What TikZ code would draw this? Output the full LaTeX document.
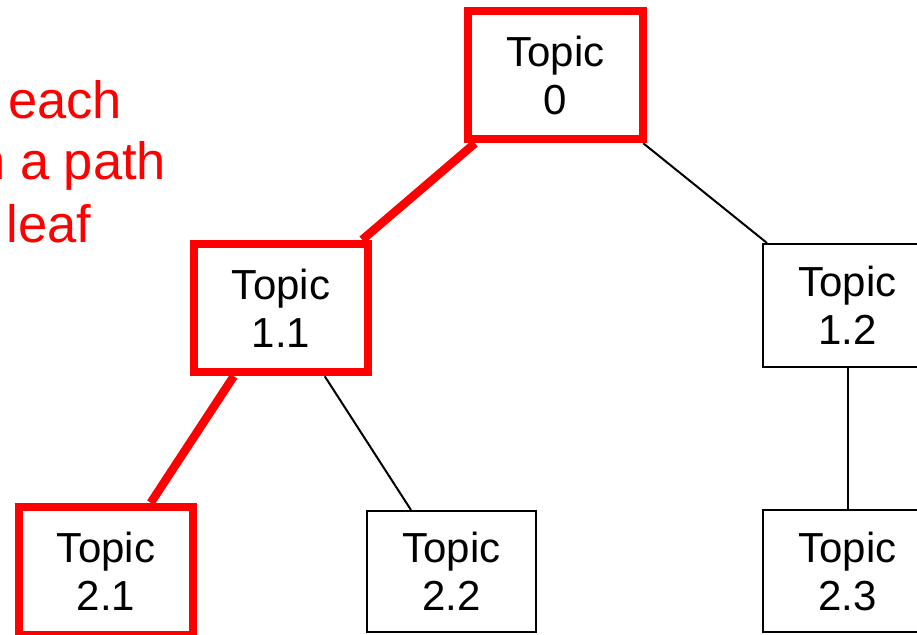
\documentclass[tikz,border=0pt]{standalone}
\usepackage{fontspec}
\setmainfont{Liberation Sans}
\usetikzlibrary{calc}
\definecolor{pathred}{RGB}{255,0,0}
\begin{document}
\begin{tikzpicture}[x=1pt,y=-1pt,
  topicbox/.style={draw=black, line width=2pt, align=center, inner sep=0pt,
    font=\fontsize{42}{48}\selectfont, text=black},
  chosenbox/.style={topicbox, draw=pathred, line width=8.5pt},
  treeedge/.style={draw=black, line width=2pt},
  chosenedge/.style={draw=pathred, line width=8.5pt},
  note/.style={anchor=base west, inner sep=0pt, text=pathred,
    font=\fontsize{52.5}{61}\selectfont}]
\useasboundingbox (0,0) rectangle (917,634);
\clip (0,0) rectangle (917,634);

% topic tree
\node[chosenbox, minimum width=175pt, minimum height=128pt] (t0)  at (555.5,75)  {Topic\\0};
\node[chosenbox, minimum width=174pt, minimum height=128pt] (t11) at (281,308)   {Topic\\1.1};
\node[topicbox,  minimum width=169pt, minimum height=123pt] (t12) at (847.5,305.5) {Topic\\1.2};
\node[chosenbox, minimum width=174pt, minimum height=128pt] (t21) at (106,571)   {Topic\\2.1};
\node[topicbox,  minimum width=169pt, minimum height=121pt] (t22) at (451.5,571.5) {Topic\\2.2};
\node[topicbox,  minimum width=169pt, minimum height=122pt] (t23) at (847.5,571) {Topic\\2.3};

% connectors
\draw[chosenedge] ($(t0.south west)+(11.25,0)$) -- ($(t11.north east)+(-10,0)$);
\draw[treeedge]   ($(t0.south east)+(-4,0)$) -- ($(t12.north west)+(5,0)$);
\draw[chosenedge] ($(t11.south west)+(44,0)$) -- ($(t21.north west)+(136,0)$);
\draw[treeedge]   ($(t11.south west)+(135,0)$) -- ($(t22.north west)+(45,0)$);
\draw[treeedge]   (t12.south) -- (t23.north);

% annotation
\node[note] (n1) at (8,118)   {each};
\node[note] (n2) at (-23.8,179) {n a path};
\node[note] (n3) at (6.5,242) {leaf};
\end{tikzpicture}
\end{document}
